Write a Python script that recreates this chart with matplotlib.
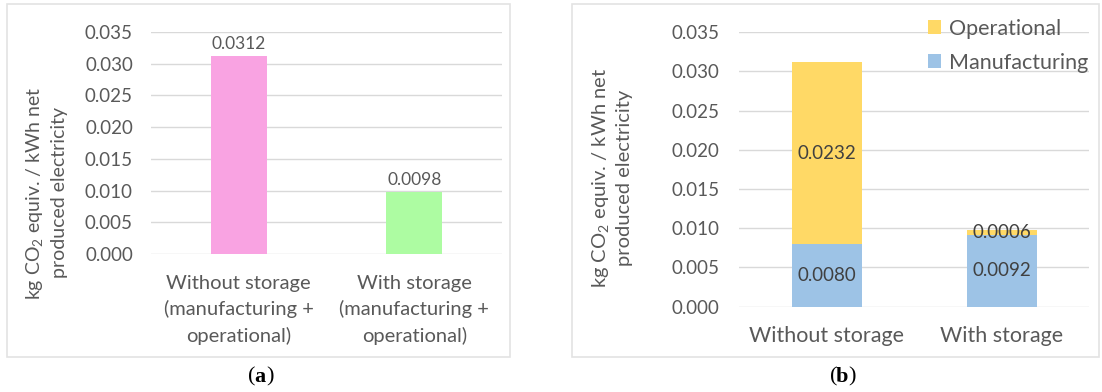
import matplotlib
matplotlib.use("Agg")
import matplotlib.pyplot as plt
from matplotlib.patches import Rectangle
import numpy as np

# --- data ---
cats_a = ["Without storage\n(manufacturing +\noperational)", "With storage\n(manufacturing +\noperational)"]
totals = [0.0312, 0.0098]
cats_b = ["Without storage", "With storage"]
manufacturing = [0.0080, 0.0092]
operational = [0.0232, 0.0006]
yticks = [0.000, 0.005, 0.010, 0.015, 0.020, 0.025, 0.030, 0.035]

TXT = "#595959"
GRID = "#D9D9D9"
plt.rcParams['font.family'] = ['Lato', 'DejaVu Sans']
plt.rcParams['mathtext.fontset'] = 'custom'
plt.rcParams['mathtext.rm'] = 'Lato'

W, H = 1102, 392
fig = plt.figure(figsize=(W / 100, H / 100), dpi=100)
fig.patch.set_facecolor("white")

def px(x0, y0, x1, y1):
    return [x0 / W, 1 - y1 / H, (x1 - x0) / W, (y1 - y0) / H]

# panel frames
for x0, x1 in [(7, 510), (572, 1099)]:
    fig.add_artist(Rectangle((x0 / W, 1 - 357 / H), (x1 - x0) / W, 353 / H,
                             transform=fig.transFigure, fill=False, ec="#E3E3E3", lw=1.2))

def style_axis(ax, fs, pad):
    ax.set_ylim(0, 0.035)
    ax.set_yticks(yticks)
    ax.set_yticklabels([f"{t:.3f}" for t in yticks])
    for s in ax.spines.values():
        s.set_visible(False)
    ax.tick_params(axis="both", length=0, colors=TXT, labelsize=fs)
    ax.tick_params(axis="y", pad=pad)
    ax.grid(axis="y", color=GRID, lw=1)
    ax.set_axisbelow(True)

# --- (a) ---
ax1 = fig.add_axes(px(151, 32, 502, 254))
x = np.arange(len(cats_a))
bars = ax1.bar(x, totals, width=0.32, color=["#F9A3E2", "#ADFCA2"])
ax1.set_xlim(-0.5, 1.5)
style_axis(ax1, 13.5, 13)
ax1.set_xticks(x)
ax1.set_xticklabels(cats_a, fontsize=14.5, linespacing=1.55)
ax1.tick_params(axis="x", pad=15)
for b, v in zip(bars, totals):
    ax1.annotate(f"{v:.4f}", (b.get_x() + b.get_width() / 2, v), xytext=(0, 3),
                 textcoords="offset points", ha="center", va="bottom", fontsize=12.5, color=TXT)
fig.text(46 / W, 1 - 193 / H, "kg CO$_2$ equiv. / kWh net\nproduced electricity",
         rotation=90, ha="center", va="center", fontsize=14, color=TXT, linespacing=1.35)

# --- (b) ---
ax2 = fig.add_axes(px(739, 32.3, 1089, 306.7))
x = np.arange(len(cats_b))
b1 = ax2.bar(x, manufacturing, width=0.40, color="#9DC3E6", label="Manufacturing")
b2 = ax2.bar(x, operational, width=0.40, bottom=manufacturing, color="#FFD966", label="Operational")
ax2.set_xlim(-0.5, 1.5)
style_axis(ax2, 13.5, 14)
ax2.set_xticks(x)
ax2.set_xticklabels(cats_b, fontsize=15.5)
ax2.tick_params(axis="x", pad=14)
for i in range(len(cats_b)):
    ax2.text(x[i], manufacturing[i] / 2, f"{manufacturing[i]:.4f}", ha="center", va="center",
             fontsize=13.5, color="#404040")
    ax2.text(x[i], manufacturing[i] + operational[i] / 2, f"{operational[i]:.4f}", ha="center",
             va="center", fontsize=13.5, color="#404040")
leg = ax2.legend([b2, b1], ["Operational", "Manufacturing"], loc="upper right",
                 bbox_to_anchor=(1097 / W, 1 - 10 / H), bbox_transform=fig.transFigure,
                 frameon=False, fontsize=15.5, handlelength=0.6, handleheight=0.6,
                 handletextpad=0.4, labelspacing=0.65, borderaxespad=0)
for t in leg.get_texts():
    t.set_color(TXT)
fig.text(612 / W, 1 - 178 / H, "kg CO$_2$ equiv. / kWh net\nproduced electricity",
         rotation=90, ha="center", va="center", fontsize=14.5, color=TXT, linespacing=1.3)

# captions
for cx, letter in [(260, "a"), (842, "b")]:
    fig.text(cx / W, 1 - 377 / H, letter, ha="center", va="center", fontsize=16,
             family="Liberation Serif", weight="bold", color="black")
    fig.text((cx - 5) / W, 1 - 377 / H, "(", ha="right", va="center", fontsize=16,
             family="Liberation Serif", color="black")
    fig.text((cx + 6) / W, 1 - 377 / H, ")", ha="left", va="center", fontsize=16,
             family="Liberation Serif", color="black")

fig.savefig("out.png", dpi=100)
